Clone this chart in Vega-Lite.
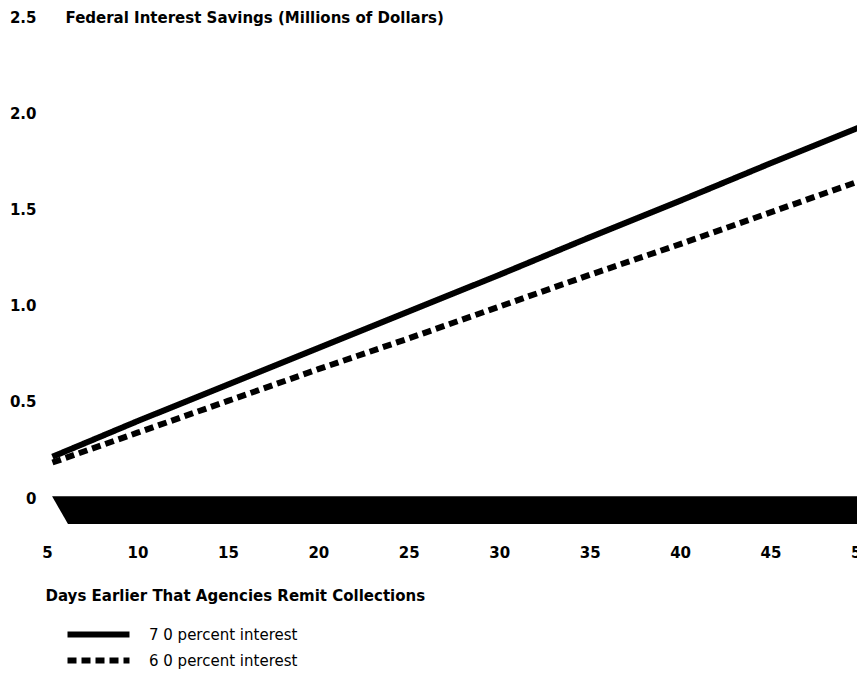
{
  "$schema": "https://vega.github.io/schema/vega-lite/v6.json",
  "width": 814,
  "height": 510,
  "autosize": "none",
  "padding": {"left": 47, "top": 17, "right": 0, "bottom": 147},
  "background": "white",
  "config": {"view": {"stroke": null}, "font": "DejaVu Sans"},
  "datasets": {
    "band": [
      {"day": 5.28, "top": 0.01, "bottom": 0.01},
      {"day": 6.16, "top": 0.01, "bottom": -0.135},
      {"day": 50, "top": 0.01, "bottom": -0.135}
    ],
    "lines": [
      {"day": 5.3, "savings": 0.215, "series": "7 0 percent interest"},
      {"day": 10, "savings": 0.4, "series": "7 0 percent interest"},
      {"day": 15, "savings": 0.59, "series": "7 0 percent interest"},
      {"day": 20, "savings": 0.78, "series": "7 0 percent interest"},
      {"day": 25, "savings": 0.97, "series": "7 0 percent interest"},
      {"day": 30, "savings": 1.16, "series": "7 0 percent interest"},
      {"day": 35, "savings": 1.355, "series": "7 0 percent interest"},
      {"day": 40, "savings": 1.545, "series": "7 0 percent interest"},
      {"day": 45, "savings": 1.74, "series": "7 0 percent interest"},
      {"day": 50, "savings": 1.93, "series": "7 0 percent interest"},
      {"day": 5.3, "savings": 0.185, "series": "6 0 percent interest"},
      {"day": 10, "savings": 0.34, "series": "6 0 percent interest"},
      {"day": 15, "savings": 0.505, "series": "6 0 percent interest"},
      {"day": 20, "savings": 0.67, "series": "6 0 percent interest"},
      {"day": 25, "savings": 0.83, "series": "6 0 percent interest"},
      {"day": 30, "savings": 0.995, "series": "6 0 percent interest"},
      {"day": 35, "savings": 1.16, "series": "6 0 percent interest"},
      {"day": 40, "savings": 1.32, "series": "6 0 percent interest"},
      {"day": 45, "savings": 1.485, "series": "6 0 percent interest"},
      {"day": 50, "savings": 1.65, "series": "6 0 percent interest"}
    ]
  },
  "layer": [
    {
      "data": {"name": "band"},
      "mark": {"type": "area", "color": "black", "opacity": 1},
      "encoding": {
        "x": {
          "field": "day",
          "type": "quantitative",
          "scale": {"domain": [5, 50], "zero": false, "nice": false},
          "axis": {
            "values": [5, 10, 15, 20, 25, 30, 35, 40, 45, 50],
            "grid": false,
            "domain": false,
            "ticks": false,
            "labelFlush": false,
            "labelOverlap": false,
            "labelFont": "DejaVu Sans",
            "labelFontSize": 15,
            "labelFontWeight": "bold",
            "labelColor": "black",
            "labelPadding": 18,
            "title": "Days Earlier That Agencies Remit Collections",
            "titleFont": "DejaVu Sans",
            "titleFontSize": 15,
            "titleFontWeight": "bold",
            "titleColor": "black",
            "titleAnchor": "start",
            "titleAlign": "left",
            "titleBaseline": "middle",
            "titleX": -2,
            "titleY": 68
          }
        },
        "y": {
          "field": "top",
          "type": "quantitative",
          "scale": {"domain": [-0.15, 2.5], "zero": false, "nice": false},
          "axis": {
            "values": [0, 0.5, 1, 1.5, 2, 2.5],
            "labelExpr": "datum.value == 0 ? '0' : format(datum.value, '.1f')",
            "grid": false,
            "domain": false,
            "ticks": false,
            "labelOverlap": false,
            "labelFont": "DejaVu Sans",
            "labelFontSize": 15,
            "labelFontWeight": "bold",
            "labelColor": "black",
            "labelPadding": 11,
            "title": "Federal Interest Savings (Millions of Dollars)",
            "titleFont": "DejaVu Sans",
            "titleFontSize": 15,
            "titleFontWeight": "bold",
            "titleColor": "black",
            "titleAngle": 0,
            "titleAlign": "left",
            "titleBaseline": "middle",
            "titleX": 18,
            "titleY": 0
          }
        },
        "y2": {"field": "bottom"}
      }
    },
    {
      "data": {"name": "lines"},
      "mark": {"type": "line", "color": "black", "strokeWidth": 6, "strokeCap": "butt"},
      "encoding": {
        "x": {"field": "day", "type": "quantitative"},
        "y": {"field": "savings", "type": "quantitative"},
        "strokeDash": {
          "field": "series",
          "type": "nominal",
          "scale": {
            "domain": ["7 0 percent interest", "6 0 percent interest"],
            "range": [[1, 0], [9, 5]]
          },
          "legend": {
            "orient": "none",
            "legendX": 38,
            "legendY": 604,
            "title": null,
            "symbolType": "M-3,0H3",
            "symbolSize": 427,
            "symbolStrokeWidth": 6,
            "symbolStrokeColor": "black",
            "symbolFillColor": "transparent",
            "labelFont": "DejaVu Sans",
            "labelFontSize": 15,
            "labelColor": "black",
            "labelOffset": 37,
            "rowPadding": 0
          }
        }
      }
    }
  ]
}
